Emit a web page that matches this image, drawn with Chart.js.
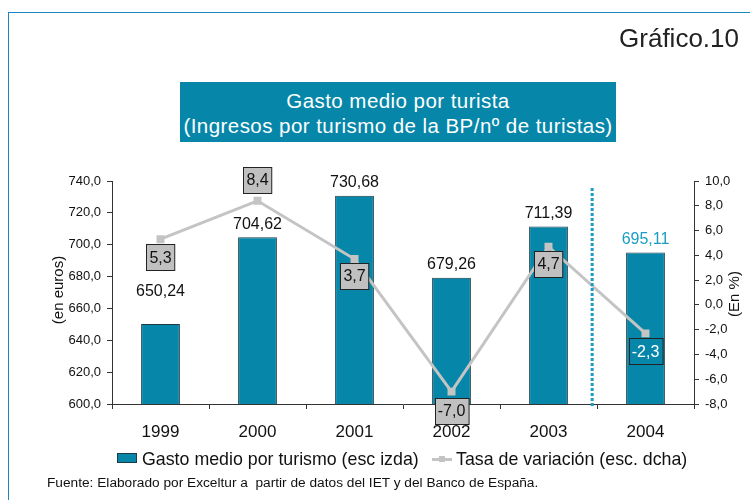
<!DOCTYPE html>
<html>
<head>
<meta charset="utf-8">
<script src="https://cdn.jsdelivr.net/npm/chart.js@4/dist/chart.umd.min.js"></script>
<style>
  html, body { margin: 0; padding: 0; background: #fff; }
  #wrap { position: relative; width: 750px; height: 500px; overflow: hidden; font-family: "Liberation Sans", Arial, sans-serif; }
  #frame { position: absolute; left: 8px; top: 12px; width: 800px; height: 600px; border: 1px solid #1a88c0; box-sizing: border-box; }
  #chart { position: absolute; left: 0; top: 0; }
  #gtitle { position: absolute; left: 180px; top: 82px; width: 436px; height: 60px; background: #0687a9; color: #fff; font-size: 20.5px; letter-spacing: 0.45px; line-height: 25px; text-align: center; padding-top: 6px; box-sizing: border-box; white-space: nowrap; }
  #grafico { position: absolute; right: 11px; top: 23px; font-size: 26px; line-height: 30px; color: #222; }
  .leg { position: absolute; font-size: 17.8px; line-height: 20px; color: #111; top: 449px; white-space: nowrap; }
  #sq { position: absolute; left: 117px; top: 453px; width: 20px; height: 10px; background: #0687a9; border: 1px solid #1d3a45; box-sizing: border-box; }
  #ln { position: absolute; left: 432px; top: 458px; width: 20px; height: 3px; background: #c4c4c4; }
  #lnm { position: absolute; left: 439px; top: 456px; width: 6px; height: 6px; background: #c4c4c4; }
  #src { position: absolute; left: 47px; top: 475px; font-size: 13.7px; line-height: 16px; color: #111; white-space: pre; }
</style>
</head>
<body>
<div id="wrap">
  <canvas id="chart" width="750" height="500"></canvas>
  <div id="frame"></div>
  <div id="grafico">Gráfico.10</div>
  <div id="gtitle">Gasto medio por turista<br>(Ingresos por turismo de la BP/nº de turistas)</div>
  <div id="sq"></div>
  <div class="leg" style="left:142px">Gasto medio por turismo (esc izda)</div>
  <div id="ln"></div><div id="lnm"></div>
  <div class="leg" style="left:456px">Tasa de variación (esc. dcha)</div>
  <div id="src">Fuente: Elaborado por Exceltur a  partir de datos del IET y del Banco de España.</div>
</div>
<script>
// ---- data ----
const years = ["1999", "2000", "2001", "2002", "2003", "2004"];
const gastoMedio = [650.24, 704.62, 730.68, 679.26, 711.39, 695.11];
const tasaVariacion = [5.3, 8.4, 3.7, -7.0, 4.7, -2.3];
const leftTicks = [600, 620, 640, 660, 680, 700, 720, 740];
const rightTicks = [-8, -6, -4, -2, 0, 2, 4, 6, 8, 10];

// ---- styles ----
const TEAL = '#0687a9';
const LIGHT_TEAL = '#1c9cc4';
const GREY = '#c4c4c4';
const FONT = '"Liberation Sans", Arial, sans-serif';
const fmt = (v, d) => v.toFixed(d).replace('.', ',');

// label placement (pixels relative to marks)
const barLabelLift = [32, 13, 13, 13, 13, 13];
const lineLabelShift = [18, -21, 17, 19, 17, 18];

const labelsPlugin = {
  id: 'labels',
  afterDatasetsDraw(chart) {
    const ctx = chart.ctx;
    const x = chart.scales.x;
    const area = chart.chartArea;
    // dotted separator
    ctx.save();
    ctx.strokeStyle = LIGHT_TEAL;
    ctx.lineWidth = 3;
    ctx.setLineDash([3, 2]);
    const sx = x.getPixelForValue(4.45);
    ctx.beginPath();
    ctx.moveTo(sx, area.top + 7);
    ctx.lineTo(sx, area.bottom + 4);
    ctx.stroke();
    ctx.restore();

    // bar labels
    const barMeta = chart.getDatasetMeta(0);
    ctx.save();
    ctx.font = '16px ' + FONT;
    ctx.textAlign = 'center';
    ctx.textBaseline = 'middle';
    barMeta.data.forEach((b, i) => {
      ctx.fillStyle = i === 5 ? LIGHT_TEAL : '#111';
      ctx.fillText(fmt(gastoMedio[i], 2), b.x, b.y - barLabelLift[i]);
    });
    ctx.restore();

    // line labels in boxes
    const lineMeta = chart.getDatasetMeta(1);
    ctx.save();
    ctx.font = '16px ' + FONT;
    ctx.textAlign = 'center';
    ctx.textBaseline = 'middle';
    lineMeta.data.forEach((p, i) => {
      const t = fmt(tasaVariacion[i], 1);
      const w = ctx.measureText(t).width + 6;
      const h = 26;
      const cy = p.y + lineLabelShift[i];
      const bx = Math.round(p.x - w / 2) + 0.5;
      const by = Math.round(cy - h / 2) + 0.5;
      ctx.fillStyle = i === 5 ? TEAL : '#c0c0c0';
      ctx.fillRect(bx, by, w, h);
      ctx.strokeStyle = '#222';
      ctx.lineWidth = 1;
      ctx.strokeRect(bx, by, w, h);
      ctx.fillStyle = i === 5 ? '#fff' : '#111';
      ctx.fillText(t, p.x, cy + 1);
    });
    ctx.restore();

    // axis titles
    ctx.save();
    ctx.font = '15px ' + FONT;
    ctx.fillStyle = '#111';
    ctx.textAlign = 'center';
    ctx.textBaseline = 'middle';
    ctx.translate(59, 290);
    ctx.rotate(-Math.PI / 2);
    ctx.fillText('(en euros)', 0, 0);
    ctx.restore();
    ctx.save();
    ctx.font = '15px ' + FONT;
    ctx.fillStyle = '#111';
    ctx.textAlign = 'center';
    ctx.textBaseline = 'middle';
    ctx.translate(735, 294);
    ctx.rotate(-Math.PI / 2);
    ctx.fillText('(En %)', 0, 0);
    ctx.restore();
  }
};

new Chart(document.getElementById('chart'), {
  data: {
    labels: years,
    datasets: [
      {
        type: 'bar',
        label: 'Gasto medio por turismo (esc izda)',
        data: gastoMedio,
        yAxisID: 'y',
        backgroundColor: TEAL,
        borderColor: '#1d3a45',
        borderWidth: 1,
        borderSkipped: false,
        categoryPercentage: 1,
        barPercentage: 0.4,
        order: 2
      },
      {
        type: 'line',
        label: 'Tasa de variación (esc. dcha)',
        data: tasaVariacion,
        yAxisID: 'y1',
        borderColor: GREY,
        borderWidth: 3,
        pointStyle: 'rect',
        pointRadius: 3.5,
        pointBackgroundColor: GREY,
        pointBorderColor: GREY,
        tension: 0,
        order: 1
      }
    ]
  },
  options: {
    responsive: false,
    animation: false,
    events: [],
    layout: { padding: { left: 0, right: 0, top: 181, bottom: 0 } },
    plugins: { legend: { display: false }, tooltip: { enabled: false }, title: { display: false } },
    scales: {
      x: {
        offset: true,
        grid: { display: true, drawOnChartArea: false, drawTicks: true, tickLength: 5, color: '#333', offset: true },
        border: { display: true, color: '#333', width: 1 },
        ticks: { color: '#111', font: { family: FONT, size: 17 }, padding: 13 },
        afterFit: s => { s.height = 96; }
      },
      y: {
        position: 'left',
        min: 600, max: 740,
        afterBuildTicks: s => { s.ticks = leftTicks.map(v => ({ value: v })); },
        grid: { drawOnChartArea: false, drawTicks: true, tickLength: 5, color: '#333' },
        border: { display: true, color: '#333', width: 1 },
        ticks: { color: '#111', font: { family: FONT, size: 13 }, padding: 6, callback: v => fmt(v, 1) },
        afterFit: s => { s.width = 112; }
      },
      y1: {
        position: 'right',
        min: -8, max: 10,
        afterBuildTicks: s => { s.ticks = rightTicks.map(v => ({ value: v })); },
        grid: { drawOnChartArea: false, drawTicks: true, tickLength: 5, color: '#333' },
        border: { display: true, color: '#333', width: 1 },
        ticks: { color: '#111', font: { family: FONT, size: 13 }, padding: 6, callback: v => fmt(v, 1) },
        afterFit: s => { s.width = 56; }
      }
    }
  },
  plugins: [labelsPlugin]
});
</script>
</body>
</html>
